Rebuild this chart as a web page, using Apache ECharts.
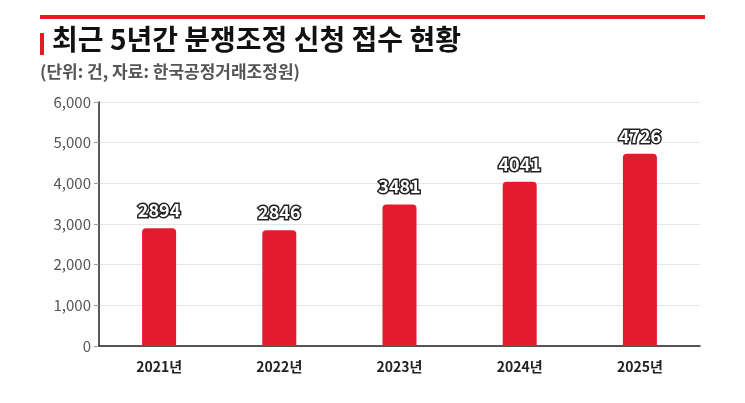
<!DOCTYPE html>
<html><head><meta charset="utf-8">
<script src="https://cdn.jsdelivr.net/npm/echarts@6/dist/echarts.min.js"></script>
<style>html,body{margin:0;padding:0;background:#fff}#c{width:745px;height:403px}</style>
</head><body><div id="c"></div>
<script>
const years = ['2021년', '2022년', '2023년', '2024년', '2025년'];
const counts = [2894, 2846, 3481, 4041, 4726];
const yTicks = [0, 1000, 2000, 3000, 4000, 5000, 6000];

const chart = echarts.init(document.getElementById('c'));
const font = '"Noto Sans CJK KR", "Noto Sans", sans-serif';
chart.setOption({
  animation: false,
  textStyle: { fontFamily: font },
  graphic: [
    { type: 'rect', shape: { x: 40, y: 15, width: 665, height: 4 }, style: { fill: '#e31b23' } },
    { type: 'rect', shape: { x: 40, y: 33, width: 4, height: 22 }, style: { fill: '#e31b23' } },
    { type: 'text', left: 52, top: 25, style: { text: '최근 5년간 분쟁조정 신청 접수 현황', font: 'bold 28px ' + font, fill: '#111' } },
    { type: 'text', left: 40, top: 63, style: { text: '(단위: 건, 자료: 한국공정거래조정원)', font: 'bold 17px ' + font, fill: '#555' } }
  ],
  grid: { left: 99, right: 45, top: 102, bottom: 57 },
  xAxis: {
    type: 'category', data: years,
    axisLine: { lineStyle: { color: '#222', width: 1.5 } },
    axisTick: { show: false },
    axisLabel: { color: '#222', fontWeight: 'bold', fontSize: 14, margin: 14 }
  },
  yAxis: {
    type: 'value', min: yTicks[0], max: yTicks[yTicks.length - 1], interval: 1000,
    axisLine: { show: true, lineStyle: { color: '#222', width: 1.5 } },
    axisTick: { show: true, length: 5, lineStyle: { color: '#999' } },
    axisLabel: { color: '#555', fontSize: 15, margin: 8, formatter: v => v.toLocaleString('en-US') },
    splitLine: { lineStyle: { color: '#e6e6e6' } }
  },
  series: [{
    type: 'bar', data: counts, barWidth: 34,
    itemStyle: { color: '#e31b2d', borderRadius: [4, 4, 0, 0] },
    label: {
      show: true, position: 'top', distance: 9,
      color: '#fff', fontSize: 18, fontWeight: 'bold',
      textBorderColor: '#222', textBorderWidth: 3
    }
  }]
});
</script></body></html>
